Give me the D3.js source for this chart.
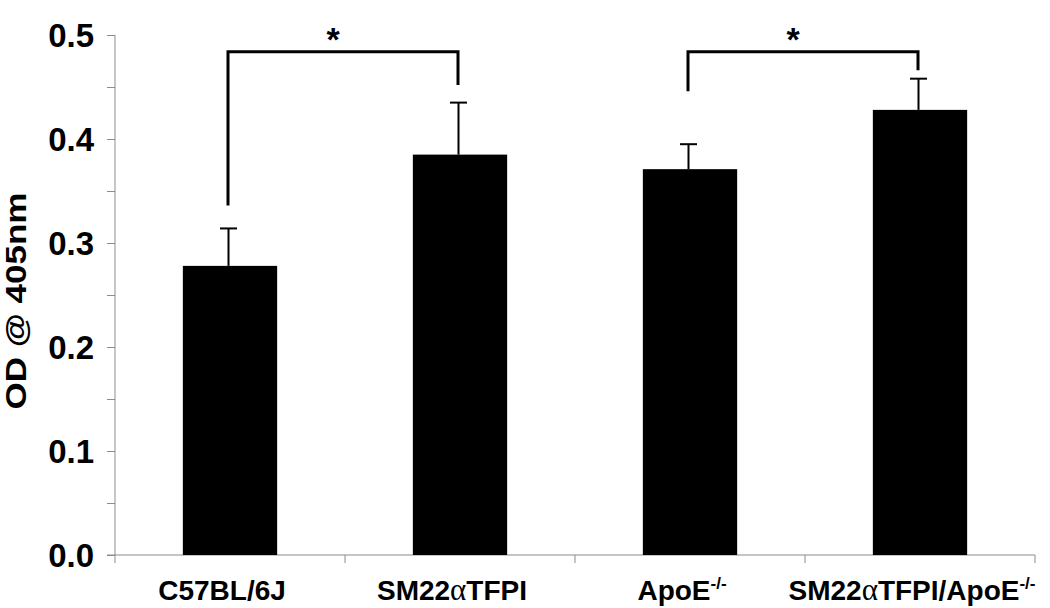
<!DOCTYPE html>
<html>
<head>
<meta charset="utf-8">
<script src="https://cdn.jsdelivr.net/npm/d3@7"></script>
<style>
  body { margin: 0; background: #fff; }
  text { font-family: "Liberation Sans", Arial, sans-serif; font-weight: bold; }
</style>
</head>
<body>
<script>
// groups on the x axis (label parts: main text, alpha, rest, superscript)
var groups = ["C57BL/6J", "SM22aTFPI", "ApoE", "SM22aTFPI/ApoE"];
var labelParts = [
  [["C57BL/6J", ""]],
  [["SM22", ""], ["α", "alpha"], ["TFPI", ""]],
  [["ApoE", ""], ["-/-", "sup"]],
  [["SM22", ""], ["α", "alpha"], ["TFPI/ApoE", ""], ["-/-", "sup"]]
];
// mean OD and upper error (SD/SEM)
var means = [0.278, 0.385, 0.371, 0.428];
var errors = [0.036, 0.050, 0.024, 0.030];
// significance brackets: from group, to group, top level, left foot, right foot
var brackets = [
  {from: 0, to: 1, top: 0.484, left: 0.336, right: 0.452},
  {from: 2, to: 3, top: 0.484, left: 0.446, right: 0.466}
];
var yTicks = [0.0, 0.1, 0.2, 0.3, 0.4, 0.5];

var width = 1050, height = 608;

var svg = d3.select("body").append("svg")
  .attr("width", width)
  .attr("height", height);

var x = d3.scaleBand().domain(groups).range([115, 1035]).padding(0);
var y = d3.scaleLinear().domain([0, 0.5]).range([555, 35]);
var barW = x.bandwidth() * 0.41;
var cx = function(i) { return x(groups[i]) + x.bandwidth() / 2; };

// y axis: major and minor ticks on the left
var yAxis = d3.axisLeft(y)
  .tickValues(d3.range(0, 0.501, 0.05))
  .tickSize(8)
  .tickFormat(function(d) { return ""; });
var gy = svg.append("g").attr("transform", "translate(115,0)").call(yAxis);
gy.select(".domain").attr("stroke", "#8c8c8c").attr("d", "M0," + y(0.5) + "V" + y(0));
gy.selectAll(".tick line").attr("stroke", "#8c8c8c");

svg.append("g").selectAll("text")
  .data(yTicks)
  .enter().append("text")
  .attr("x", 94)
  .attr("y", function(d) { return y(d); })
  .attr("dy", "0.36em")
  .attr("text-anchor", "end")
  .attr("font-size", "33px")
  .text(function(d) { return d.toFixed(1); });

// x axis: line with category boundary ticks below
svg.append("line")
  .attr("x1", 107).attr("x2", 1035)
  .attr("y1", y(0)).attr("y2", y(0))
  .attr("stroke", "#8c8c8c");
svg.append("g").selectAll("line")
  .data(d3.range(groups.length + 1))
  .enter().append("line")
  .attr("x1", function(i) { return 115 + i * x.bandwidth(); })
  .attr("x2", function(i) { return 115 + i * x.bandwidth(); })
  .attr("y1", y(0)).attr("y2", y(0) + 8)
  .attr("stroke", "#8c8c8c");

// bars
svg.append("g").selectAll("rect")
  .data(means)
  .enter().append("rect")
  .attr("x", function(d, i) { return cx(i) - barW / 2; })
  .attr("y", function(d) { return y(d); })
  .attr("width", barW)
  .attr("height", function(d) { return y(0) - y(d); })
  .attr("fill", "#000");

// error bars (upper only)
var eb = svg.append("g").attr("stroke", "#000").attr("stroke-width", 2);
means.forEach(function(m, i) {
  var c = cx(i) - 1.5;
  eb.append("line").attr("x1", c).attr("x2", c)
    .attr("y1", y(m)).attr("y2", y(m + errors[i]));
  eb.append("line").attr("x1", c - 8.5).attr("x2", c + 8.5)
    .attr("y1", y(m + errors[i])).attr("y2", y(m + errors[i]));
});

// significance brackets with stars
brackets.forEach(function(b) {
  var x1 = cx(b.from) - 2, x2 = cx(b.to) - 2;
  svg.append("path")
    .attr("d", "M" + x1 + "," + y(b.left) + "V" + y(b.top) + "H" + x2 + "V" + y(b.right))
    .attr("fill", "none")
    .attr("stroke", "#000")
    .attr("stroke-width", 3);
  svg.append("text")
    .attr("x", (x1 + x2) / 2 - 10)
    .attr("y", y(b.top) - 1)
    .attr("text-anchor", "middle")
    .attr("font-size", "34px")
    .text("*");
});

// category labels
var labels = svg.append("g").selectAll("text")
  .data(labelParts)
  .enter().append("text")
  .attr("x", function(d, i) { return cx(i) - 8; })
  .attr("y", 600)
  .attr("text-anchor", "middle")
  .attr("font-size", "28px");
labels.each(function(parts) {
  var t = d3.select(this);
  parts.forEach(function(p) {
    var s = t.append("tspan").text(p[0]);
    if (p[1] == "alpha") {
      s.attr("font-family", "'Liberation Serif', serif").attr("font-weight", "normal").attr("font-size", "31px");
    }
    if (p[1] == "sup") {
      s.attr("font-size", "17px").attr("dy", "-11");
    }
  });
});

// y axis title
svg.append("text")
  .attr("transform", "translate(26,301) rotate(-90)")
  .attr("text-anchor", "middle")
  .attr("font-size", "30px")
  .attr("textLength", 217)
  .attr("lengthAdjust", "spacingAndGlyphs")
  .text("OD @ 405nm");
</script>
</body>
</html>
